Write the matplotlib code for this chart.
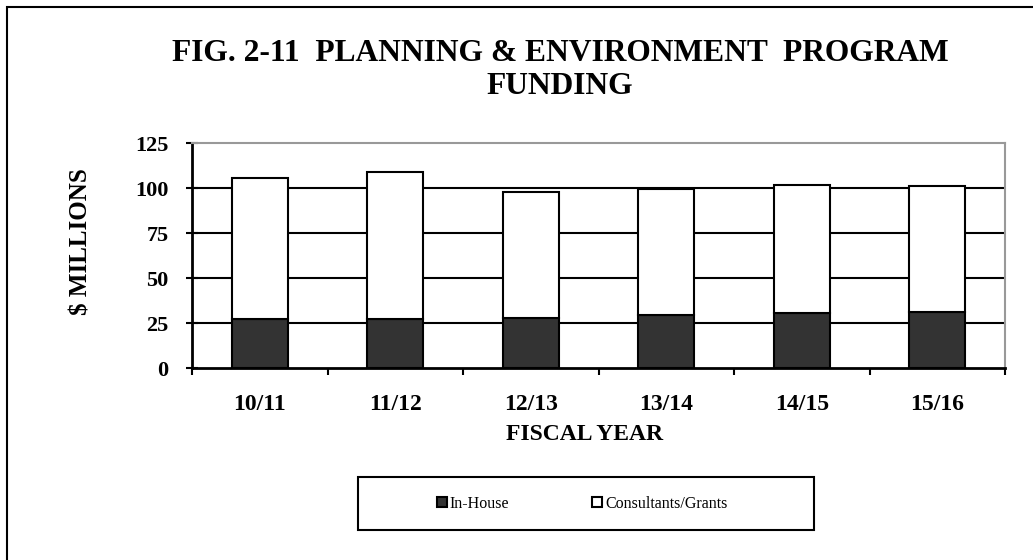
import matplotlib
matplotlib.use("Agg")
import matplotlib.pyplot as plt
import numpy as np

# values ($ millions)
years = ["10/11", "11/12", "12/13", "13/14", "14/15", "15/16"]
in_house = [27.1, 27.1, 28.0, 29.5, 30.4, 31.3]
consultants = [78.7, 81.8, 69.8, 70.3, 71.6, 69.8]
yticks = [0, 25, 50, 75, 100, 125]

plt.rcParams['font.family'] = ['Liberation Serif', 'DejaVu Serif']

W, H = 1033, 560
fig = plt.figure(figsize=(W / 100, H / 100), dpi=100)

def fx(px):
    return px / W

def fy(py):
    return 1 - py / H

ax = fig.add_axes([fx(192), fy(368), fx(1005) - fx(192), fy(143.3) - fy(368)])

x = np.arange(len(years))
bw = 0.41
b1 = ax.bar(x, in_house, bw, color='#333333', edgecolor='black', linewidth=1.5,
            label='In-House', zorder=3)
b2 = ax.bar(x, consultants, bw, bottom=in_house, color='white', edgecolor='black',
            linewidth=1.5, label='Consultants/Grants', zorder=3)

ax.set_xlim(-0.5, len(years) - 0.5)
ax.set_ylim(0, 125)

# gridlines
for v in yticks[1:-1]:
    ax.axhline(v, color='black', linewidth=1.5, zorder=1)

ax.spines['top'].set_color('#999999')
ax.spines['right'].set_color('#999999')
ax.spines['top'].set_linewidth(1.5)
ax.spines['right'].set_linewidth(1.5)
ax.spines['left'].set_linewidth(2)
ax.spines['bottom'].set_linewidth(2)
ax.spines['bottom'].set_zorder(4)

ax.set_yticks(yticks)
ax.set_yticklabels([str(v) for v in yticks], fontsize=16, fontweight='bold')
ax.tick_params(axis='y', direction='inout', length=8, width=1.5, pad=13)

ax.set_xticks(x)
ax.set_xticklabels(years, fontsize=17, fontweight='bold')
ax.set_xticks(np.arange(-0.5, len(years)), minor=True)
ax.tick_params(axis='x', which='major', length=0, pad=19)
ax.tick_params(axis='x', which='minor', direction='out', length=5, width=1.5)

fig.text(fx(560), fy(70), "FIG. 2-11  PLANNING & ENVIRONMENT  PROGRAM\nFUNDING",
         ha='center', va='center', fontsize=22.7, fontweight='bold', linespacing=1.22)
fig.text(fx(81), fy(242), "$ MILLIONS", rotation=90, ha='center', va='center',
         fontsize=18, fontweight='bold')
fig.text(fx(585), fy(435), "FISCAL YEAR", ha='center', va='center',
         fontsize=17, fontweight='bold')

# legend with its own box
fig.add_artist(plt.Rectangle((fx(358), fy(530)), fx(814) - fx(358), fy(477) - fy(530),
                             transform=fig.transFigure, fill=False,
                             edgecolor='black', linewidth=1.5))
fig.legend(handles=[b1, b2], loc='center left', bbox_to_anchor=(fx(429), fy(504)),
           ncol=2, frameon=False, fontsize=11.5, handlelength=0.6, handleheight=0.6,
           handletextpad=0.2, columnspacing=5.2, borderpad=0)

# outer border of the chart
fig.add_artist(plt.Rectangle((fx(7), -0.2), 2, fy(7) + 0.2,
                             transform=fig.transFigure, fill=False,
                             edgecolor='black', linewidth=1.5))

fig.savefig("out.png", dpi=100)
